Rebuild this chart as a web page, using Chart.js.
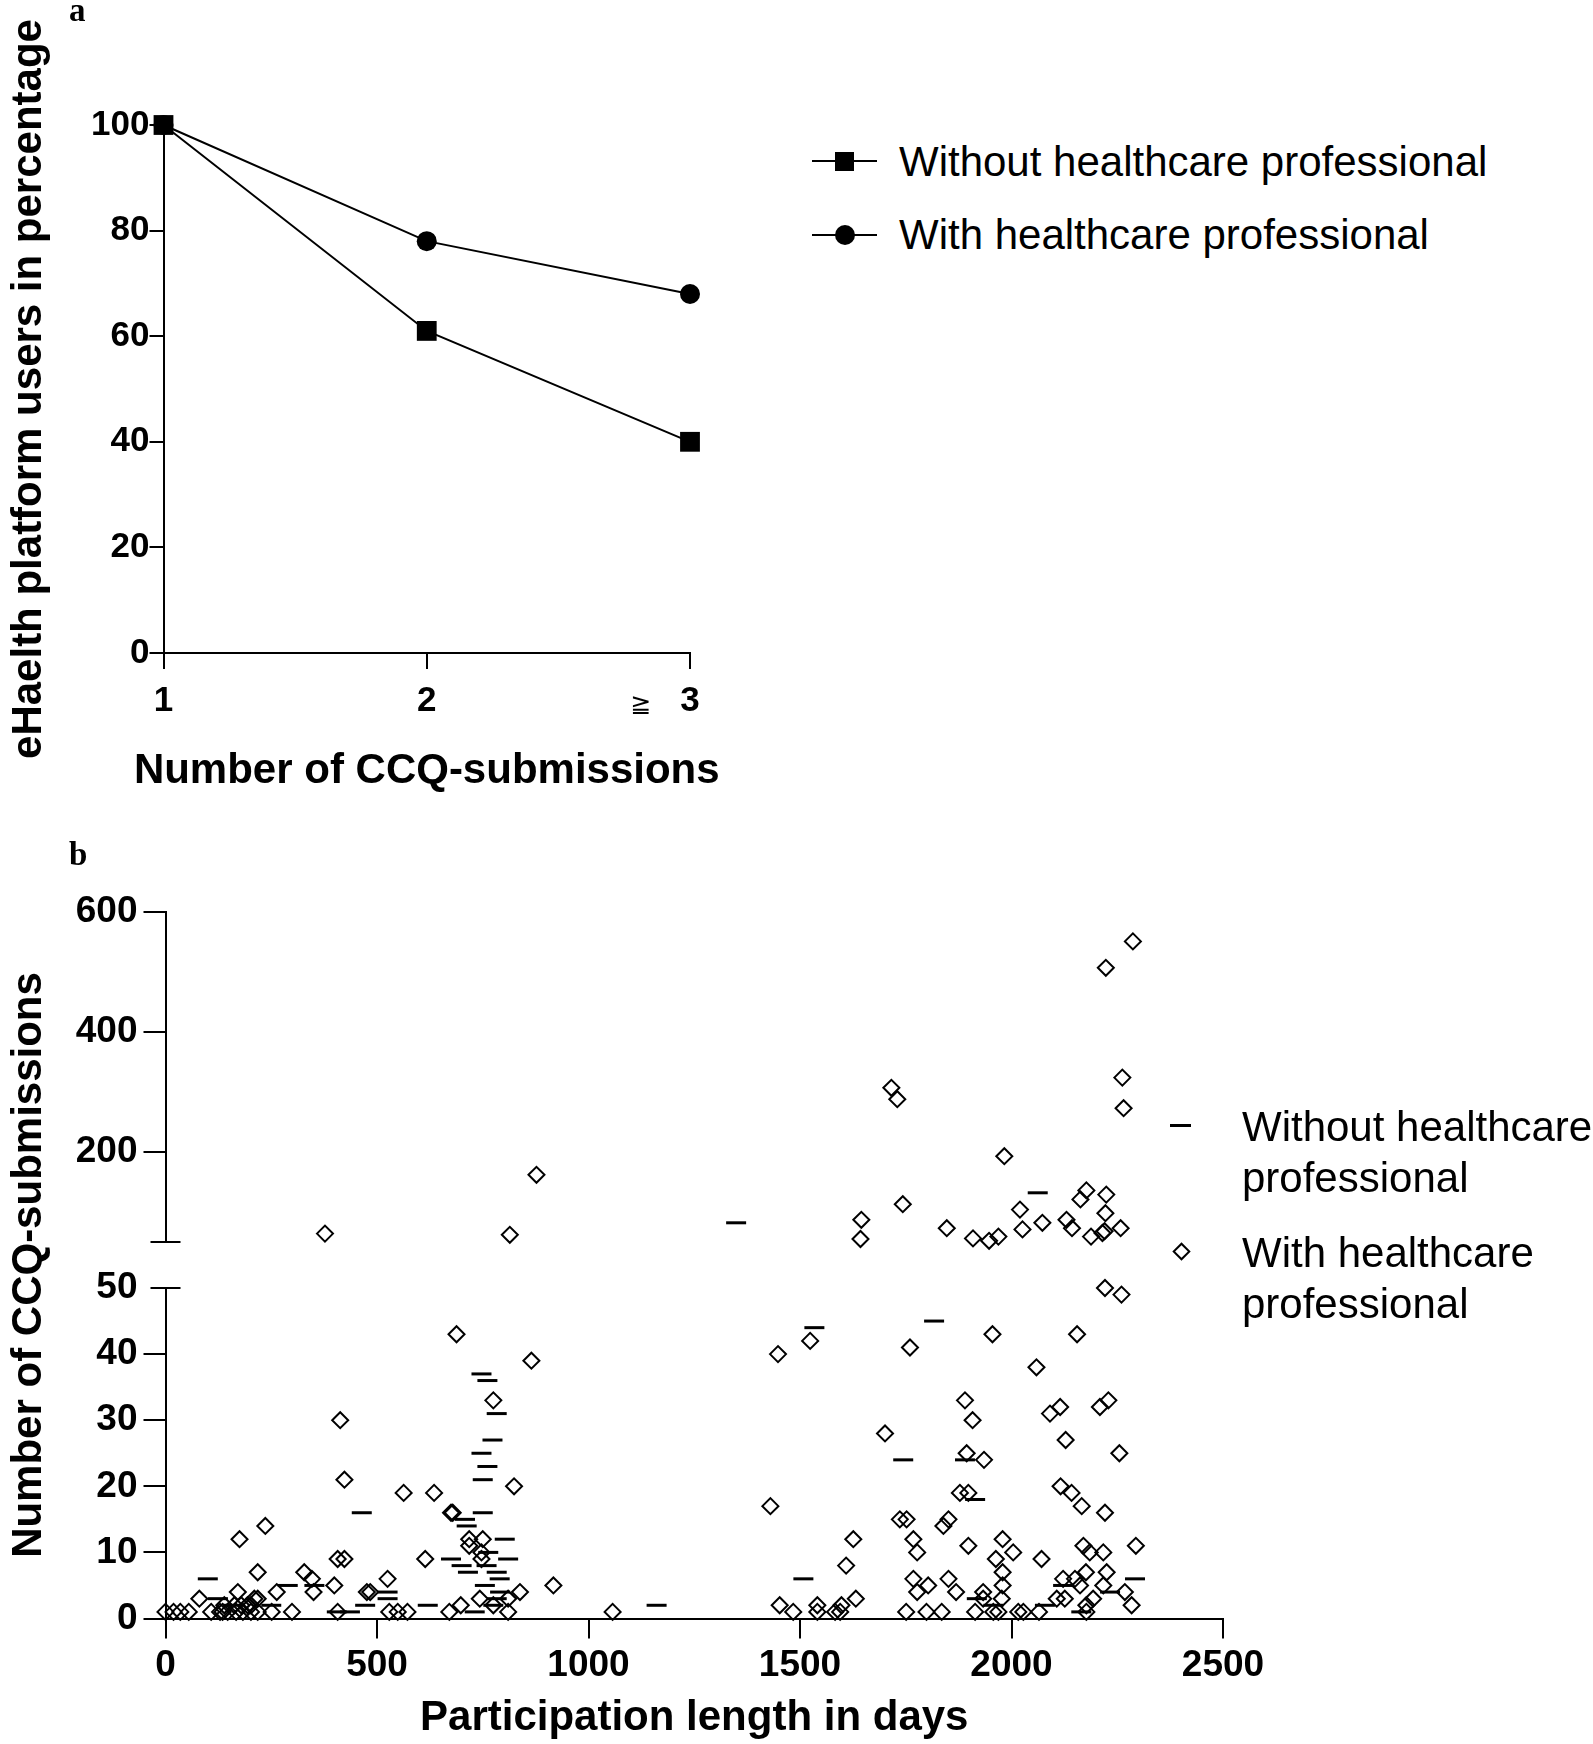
<!DOCTYPE html>
<html><head><meta charset="utf-8">
<script src="https://cdn.jsdelivr.net/npm/chart.js@4.4.1/dist/chart.umd.min.js"></script>
<style>
html,body{margin:0;padding:0;background:#fff;}
#wrap{position:relative;width:1593px;height:1744px;overflow:hidden;font-family:"Liberation Sans",Arial,sans-serif;color:#000;}
.abs{position:absolute;}
.panel{font-family:"Liberation Serif","Times New Roman",serif;font-weight:bold;font-size:33px;line-height:1;}
.leg{font-size:42px;line-height:1;white-space:nowrap;}
.leg2{font-size:42px;line-height:51px;white-space:nowrap;}
</style></head>
<body><div id="wrap">
<canvas id="ca" class="abs" style="left:0;top:0;width:760px;height:800px" width="760" height="800"></canvas>
<canvas id="cb" class="abs" style="left:0;top:860px;width:1300px;height:884px" width="1300" height="884"></canvas>

<div class="abs panel" style="left:69px;top:-6px">a</div>
<div class="abs panel" style="left:69px;top:838px">b</div>
<div class="abs" style="left:641px;top:703px;transform:translate(-50%,-50%);font-family:'DejaVu Sans';font-size:25px;line-height:1">≧</div>

<!-- legend a -->
<div class="abs" style="left:812px;top:160px;width:65px;height:2px;background:#000"></div>
<div class="abs" style="left:835px;top:152px;width:19px;height:19px;background:#000"></div>
<div class="abs leg" style="left:899px;top:141px">Without healthcare professional</div>
<div class="abs" style="left:812px;top:234px;width:65px;height:2px;background:#000"></div>
<div class="abs" style="left:835px;top:225px;width:20px;height:20px;border-radius:50%;background:#000"></div>
<div class="abs leg" style="left:899px;top:214px">With healthcare professional</div>

<!-- legend b -->
<div class="abs" style="left:1170px;top:1124px;width:21px;height:3px;background:#000"></div>
<div class="abs leg2" style="left:1242px;top:1101px">Without healthcare<br>professional</div>
<div class="abs" style="left:1175px;top:1245px;width:9px;height:9px;border:2px solid #000;transform:rotate(45deg)"></div>
<div class="abs leg2" style="left:1242px;top:1227px">With healthcare<br>professional</div>
</div>
<script>
// ---------- Panel a data ----------
const aCategories = [1, 2, 3];
const aWithout = [100, 61, 40];
const aWith = [100, 78, 68];
const aYTicks = [0, 20, 40, 60, 80, 100];
const aXTitle = 'Number of CCQ-submissions';

// ---------- Panel b data (participation days, number of CCQ submissions) ----------
const withDays = [0,19,35,55,80,108,129,135,139,147,163,167,171,175,179,183,194,202,202,210,
  218,218,218,236,251,263,299,328,346,350,399,407,407,413,423,423,476,484,525,529,
  549,563,572,614,635,671,675,679,688,698,
  718,718,743,747,747,750,775,775,810,810,824,838,865,917,1057,1430,1448,1452,
  1484,1524,1541,1541,1583,1595,1598,1609,1626,1632,1701,1736,1751,1752,1760,1768,1768,1777,1777,1799,
  1803,1835,1839,1851,1851,1869,1878,1890,1894,1898,1898,1908,1914,1933,1933,1935,1955,1957,1963,1969,
  1977,1979,1979,1979,2004,2016,
  2028,2059,2065,2071,2091,2107,2115,2116,2122,2126,2128,2142,2150,2155,2162,2166,2170,2176,2177,2177,
  2185,2193,2209,2217,2217,2221,2221,2225,2229,2255,2260,2268,2284,2294,
  377,814,877,1643,1645,1716,1730,1743,1847,1909,1947,1969,1983,2020,2026,2073,2130,2143,2163,2177,
  2188,2215,2220,2222,2223,2224,2258,2262,2265,2287];
const withCounts = [1,1,1,1,3,1,1,1,2,1,2,1,4,12,2,1,2,1,2,3,
  1,3,7,14,1,4,1,7,6,4,5,1,9,30,9,21,4,4,6,1,
  1,19,1,9,19,1,16,16,43,2,
  12,11,3,10,9,12,2,33,3,1,20,4,39,5,1,17,40,2,
  1,42,1,2,1,1,2,8,12,3,28,15,1,15,41,12,6,10,4,1,
  5,1,14,15,6,4,19,33,25,19,11,30,1,4,3,24,43,1,9,1,
  3,12,7,5,10,1,
  1,38,1,9,31,3,32,20,6,3,27,19,6,43,5,17,11,7,1,2,
  10,3,32,10,5,16,50,7,33,25,49,4,2,11,
  64,62,162,55,87,307,288,113,73,56,52,59,193,104,71,82,87,73,121,136,
  59,65,68,98,507,129,73,324,273,551];
const withoutDays = [100,124,160,250,289,352,405,436,464,472,525,525,620,675,700,708,712,715,731,747,
  747,750,750,755,759,761,761,763,773,775,783,783,783,790,791,802,810,1161,1508,1534,
  1744,1817,1890,1914,1918,1957,2079,2122,2165,2233,2292,1349,2062];
const withoutCounts = [6,3,2,2,5,5,1,1,16,2,4,3,2,9,8,15,14,7,1,37,
  25,21,16,5,8,36,23,10,27,2,31,7,3,6,4,12,9,2,6,44,
  24,45,24,18,3,2,2,5,1,4,6,82,132];
const bXTicks = [0, 500, 1000, 1500, 2000, 2500];
const bLowerTicks = [0, 10, 20, 30, 40, 50];
const bUpperTicks = [200, 400, 600];
const breakValue = 50;

Chart.defaults.font.family = "'Liberation Sans', Arial, sans-serif";
Chart.defaults.color = '#000';

const black = '#000';
const fam = "'Liberation Sans', Arial, sans-serif";
const tickFontA = {family: fam, weight: 'bold', size: 35};
const tickFontB = {family: fam, weight: 'bold', size: 37};
const titleFont = {family: fam, weight: 'bold', size: 42};
const plain = v => String(v);

// x-axis title of panel a drawn without the scale-width clamp Chart.js applies
const freeXTitle = {
  id: 'freeXTitle',
  afterDraw(chart) {
    const sx = chart.scales.x;
    const ctx = chart.ctx;
    ctx.save();
    ctx.fillStyle = black;
    ctx.font = 'bold 42px ' + fam;
    ctx.textAlign = 'center';
    ctx.textBaseline = 'middle';
    ctx.fillText(aXTitle, (sx.left + sx.right) / 2, sx.bottom - 29);
    ctx.restore();
  }
};

// ---------- Chart a ----------
new Chart(document.getElementById('ca'), {
  type: 'line',
  data: {
    datasets: [
      {label: 'Without healthcare professional',
       data: aCategories.map((c, i) => ({x: c, y: aWithout[i]})),
       borderColor: black, backgroundColor: black, borderWidth: 2,
       pointStyle: 'rect', pointRadius: 14, pointBackgroundColor: black, pointBorderWidth: 0,
       clip: false, tension: 0},
      {label: 'With healthcare professional',
       data: aCategories.map((c, i) => ({x: c, y: aWith[i]})),
       borderColor: black, backgroundColor: black, borderWidth: 2,
       pointStyle: 'circle', pointRadius: 10, pointBackgroundColor: black, pointBorderWidth: 0,
       clip: false, tension: 0}
    ]
  },
  options: {
    responsive: false, animation: false,
    plugins: {legend: {display: false}, tooltip: {enabled: false}},
    layout: {padding: {top: 125, right: 70, left: 0, bottom: 0}},
    scales: {
      x: {type: 'linear', min: 1, max: 3,
          afterBuildTicks: s => { s.ticks = aCategories.map(v => ({value: v})); },
          afterFit: s => { s.height = 147; },
          grid: {drawOnChartArea: false, drawTicks: true, tickLength: 16, color: black, lineWidth: 2},
          border: {color: black, width: 2},
          ticks: {color: black, font: tickFontA, padding: 11, autoSkip: false, maxRotation: 0, callback: plain},
          title: {display: false}},
      y: {type: 'linear', min: 0, max: 100,
          afterBuildTicks: s => { s.ticks = aYTicks.map(v => ({value: v})); },
          afterFit: s => { s.width = 163.5; },
          grid: {drawOnChartArea: false, drawTicks: true, tickLength: 14, color: black, lineWidth: 2},
          border: {color: black, width: 2},
          ticks: {color: black, font: tickFontA, padding: 0, autoSkip: false, callback: plain},
          title: {display: true, text: 'eHaelth platform users in percentage', color: black, font: titleFont, padding: {top: 4, bottom: 4}}}
    }
  },
  plugins: [freeXTitle]
});

// ---------- Chart b ----------
function pts(days, counts, upper) {
  const out = [];
  days.forEach((d, i) => {
    const c = counts[i];
    if ((c > breakValue) === upper) out.push({x: d, y: c});
  });
  return out;
}
const diamond = {pointStyle: 'rectRot', pointRadius: 8, pointBorderWidth: 2, pointBorderColor: black,
                 pointBackgroundColor: 'rgba(0,0,0,0)', clip: false, showLine: false};
const dash = {pointStyle: 'line', pointRadius: 10, pointBorderWidth: 3, pointBorderColor: black,
              pointBackgroundColor: 'rgba(0,0,0,0)', clip: false, showLine: false};

const capPlugin = {
  id: 'caps',
  afterDraw(chart) {
    const ctx = chart.ctx;
    const x = chart.chartArea.left;
    ctx.save();
    ctx.strokeStyle = black; ctx.lineWidth = 2;
    [chart.scales.yU.getPixelForValue(breakValue), chart.scales.yL.getPixelForValue(breakValue)].forEach(py => {
      ctx.beginPath(); ctx.moveTo(x - 15, py); ctx.lineTo(x + 15, py); ctx.stroke();
    });
    ctx.restore();
  }
};

const yCommon = {
  type: 'linear', position: 'left', stack: 'b',
  afterFit: s => { s.width = 165.5; },
  grid: {drawOnChartArea: false, drawTicks: true, tickLength: 22, lineWidth: 2,
         color: c => (c.tick && c.tick.value === breakValue) ? 'rgba(0,0,0,0)' : black},
  border: {color: black, width: 2},
  ticks: {color: black, font: tickFontB, padding: 6, autoSkip: false, callback: plain}
};

new Chart(document.getElementById('cb'), {
  type: 'scatter',
  data: {
    datasets: [
      Object.assign({label: 'Without healthcare professional', data: pts(withoutDays, withoutCounts, false), yAxisID: 'yL'}, dash),
      Object.assign({label: 'Without healthcare professional (upper)', data: pts(withoutDays, withoutCounts, true), yAxisID: 'yU'}, dash),
      Object.assign({label: 'With healthcare professional', data: pts(withDays, withCounts, false), yAxisID: 'yL'}, diamond),
      Object.assign({label: 'With healthcare professional (upper)', data: pts(withDays, withCounts, true), yAxisID: 'yU'}, diamond)
    ]
  },
  options: {
    responsive: false, animation: false,
    plugins: {legend: {display: false}, tooltip: {enabled: false}},
    layout: {padding: {top: 52, right: 77, left: 0, bottom: 0}},
    scales: {
      x: {type: 'linear', min: 0, max: 2500,
          afterBuildTicks: s => { s.ticks = bXTicks.map(v => ({value: v})); },
          afterFit: s => { s.height = 125.5; },
          grid: {drawOnChartArea: false, drawTicks: true, tickLength: 20, color: black, lineWidth: 2},
          border: {color: black, width: 2},
          ticks: {color: black, font: tickFontB, padding: 5, autoSkip: false, maxRotation: 0, callback: plain},
          title: {display: true, text: 'Participation length in days', color: black, font: titleFont, padding: {top: 4, bottom: 0}}},
      yU: Object.assign({}, yCommon, {min: breakValue, max: 600, stackWeight: 330, weight: 3,
          afterBuildTicks: s => { s.ticks = bUpperTicks.map(v => ({value: v})); }}),
      yG: {type: 'linear', position: 'left', stack: 'b', stackWeight: 46, weight: 2, min: 0, max: 1,
          afterFit: s => { s.width = 165.5; },
          grid: {display: false}, border: {display: false}, ticks: {display: false},
          title: {display: true, text: 'Number of CCQ-submissions', color: black, font: titleFont, padding: {top: 4, bottom: 4}}},
      yL: Object.assign({}, yCommon, {min: 0, max: breakValue, stackWeight: 330.5, weight: 1,
          afterBuildTicks: s => { s.ticks = bLowerTicks.map(v => ({value: v})); }})
    }
  },
  plugins: [capPlugin]
});
</script>
</body></html>
